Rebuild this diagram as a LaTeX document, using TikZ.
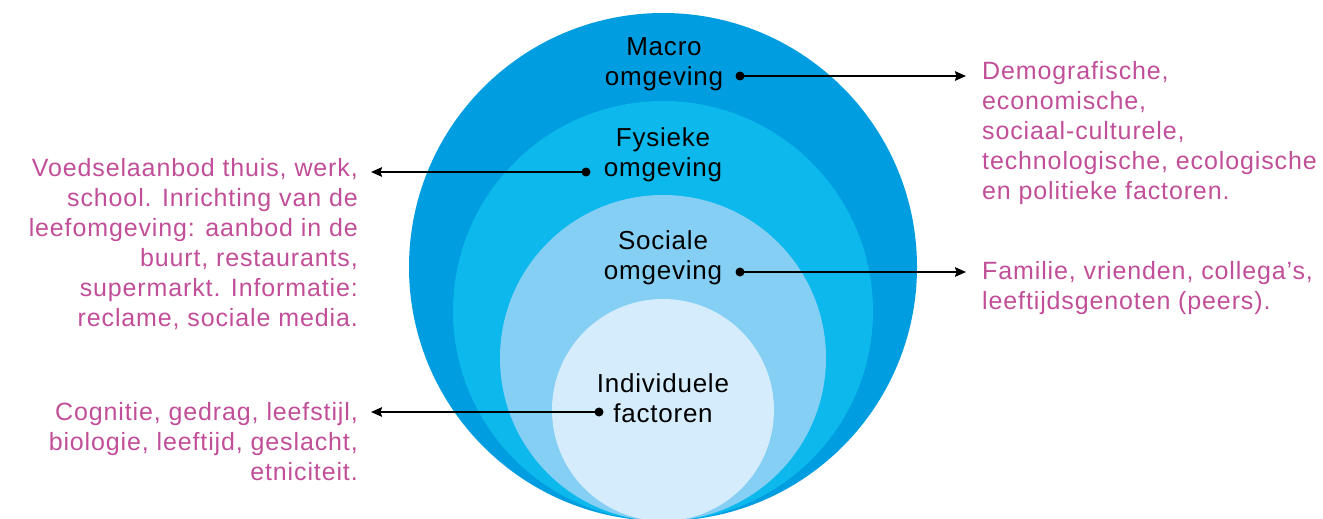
\documentclass[tikz,border=0pt]{standalone}
\usepackage{fontspec}
\setmainfont{Liberation Sans}
\usetikzlibrary{arrows.meta}
\definecolor{ringA}{RGB}{0,158,224}
\definecolor{ringB}{RGB}{12,184,236}
\definecolor{ringC}{RGB}{133,207,245}
\definecolor{ringD}{RGB}{212,236,251}
\definecolor{pinktext}{RGB}{193,78,152}
\tikzset{
  lbl/.style={align=center, inner sep=0pt, anchor=base, text=black,
    font={\fontsize{26}{30}\selectfont\addfontfeature{LetterSpace=3}}},
  desc/.style={inner sep=0pt, text=pinktext,
    font={\fontsize{25}{30}\selectfont\addfontfeature{LetterSpace=3.5}}},
  descL/.style={desc, align=right, anchor=base east},
  descR/.style={desc, align=left, anchor=base west},
  dotnode/.style={circle, fill=black, inner sep=0pt, minimum size=9pt},
  arr/.style={line width=2pt, -{Stealth[length=11pt,width=9.5pt,inset=1.5pt]}}
}
\begin{document}
\begin{tikzpicture}[x=1pt,y=-1pt]
\useasboundingbox (0,0) rectangle (1323,519);
\clip (0,0) rectangle (1323,519);
% rings
\fill[ringA] (663,267) circle[radius=254pt];
\fill[ringB] (663,311) circle[radius=210pt];
\fill[ringC] (663,358) circle[radius=163pt];
\fill[ringD] (663,410) circle[radius=111pt];
% ring labels (anchored at the baseline of their last line)
\node[lbl] (macro) at (664,85) {Macro\\omgeving};
\node[lbl] (fys) at (663,176) {Fysieke\\omgeving};
\node[lbl] (soc) at (663,279) {Sociale\\omgeving};
\node[lbl] (ind) at (663,422) {Individuele\\factoren};
% dots
\node[dotnode] (dm) at (740,76) {};
\node[dotnode] (df) at (586,172) {};
\node[dotnode] (ds) at (740,272) {};
\node[dotnode] (di) at (599,412) {};
% arrow ends
\coordinate (em) at (966,76);
\coordinate (ef) at (371,172);
\coordinate (es) at (966,272);
\coordinate (ei) at (371,412);
% descriptions (anchored at the baseline of their last line)
\node[descR] (tm) at (982,199) {Demografische,\\economische,\\sociaal-culturele,\\technologische, ecologische\\en politieke factoren.};
\node[descR] (ts) at (982,309) {Familie, vrienden, collega’s,\\leeftijdsgenoten (peers).};
\node[descL] (tf) at (358,326) {Voedselaanbod thuis, werk,\\school. Inrichting van de\\leefomgeving: aanbod in de\\buurt, restaurants,\\supermarkt. Informatie:\\reclame, sociale media.};
\node[descL] (ti) at (358,480) {Cognitie, gedrag, leefstijl,\\biologie, leeftijd, geslacht,\\etniciteit.};
% connectors
\draw[arr] (dm.center) -- (em);
\draw[arr] (df.center) -- (ef);
\draw[arr] (ds.center) -- (es);
\draw[arr] (di.center) -- (ei);
\end{tikzpicture}
\end{document}
